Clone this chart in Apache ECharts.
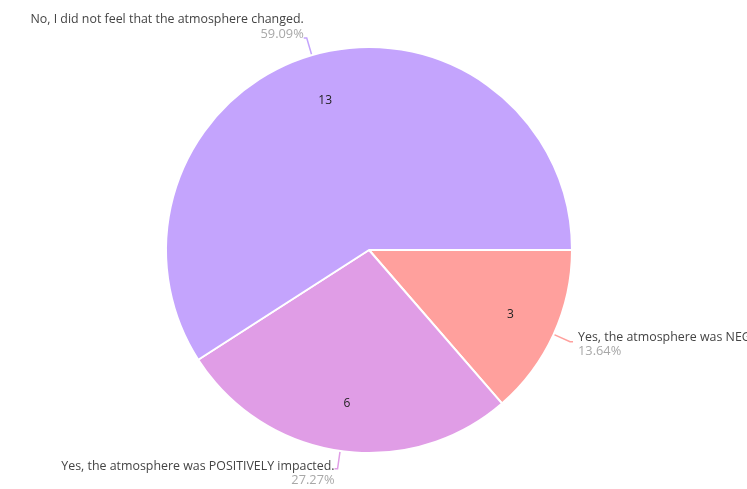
<!DOCTYPE html>
<html>
<head>
<meta charset="utf-8">
<script src="https://cdn.jsdelivr.net/npm/echarts@6/dist/echarts.min.js"></script>
<style>
	html, body { margin: 0; padding: 0; background: #fff; }
	#chart { width: 747px; height: 489px; }
</style>
</head>
<body>
<div id="chart"></div>
<script>
	// answers, in drawing order (clockwise from 3 o'clock)
	var answers = [
		'Yes, the atmosphere was NEGATIVELY impacted.',
		'Yes, the atmosphere was POSITIVELY impacted.',
		'No, I did not feel that the atmosphere changed.'
	];
	var counts = [3, 6, 13];
	var colors = ['#ffa09d', '#e09de6', '#c4a4fd'];
	// nudges the outside label block up / down against the line end
	var labelPad = [[6, 0, 0, 0], [10, 0, 0, 0], [0, 0, 22, 0]];
	var labelGap = [5, 0, 0];

	var pieData = answers.map(function (name, i) {
		return {
			name: name,
			value: counts[i],
			itemStyle: { color: colors[i] },
			label: { padding: labelPad[i], distanceToLabelLine: labelGap[i] }
		};
	});

	var chart = echarts.init(document.getElementById('chart'));
	chart.setOption({
		animation: false,
		series: [{
			// slices + outside labels
			type: 'pie',
			center: [369, 250],
			radius: 203,
			startAngle: 0,
			clockwise: true,
			silent: true,
			itemStyle: { borderColor: '#fff', borderWidth: 2 },
			label: {
				position: 'outside',
				fontFamily: 'Open Sans',
				overflow: 'none',
				formatter: '{n|{b}}\n{p|{d}%}',
				rich: {
					n: { fontSize: 12.4, color: '#444', fontFamily: 'Open Sans', lineHeight: 14 },
					p: { fontSize: 12.8, color: '#a8a8a8', fontFamily: 'Open Sans', lineHeight: 14 }
				}
			},
			labelLine: { length: 18, length2: 3, lineStyle: { width: 1.5 } },
			data: pieData
		}, {
			// invisible ring carrying the count labels
			type: 'pie',
			center: [369, 250],
			radius: [102, 203],
			startAngle: 0,
			clockwise: true,
			silent: true,
			itemStyle: { color: 'rgba(0,0,0,0)' },
			label: {
				position: 'inside',
				formatter: '{c}',
				fontFamily: 'Open Sans',
				fontSize: 12,
				color: '#222'
			},
			labelLine: { show: false },
			data: answers.map(function (name, i) {
				return { name: name, value: counts[i] };
			})
		}]
	});
</script>
</body>
</html>
